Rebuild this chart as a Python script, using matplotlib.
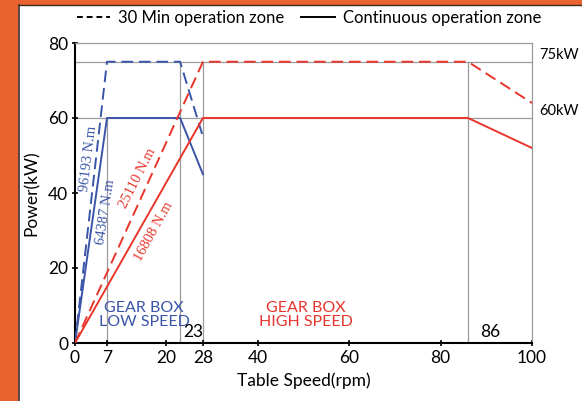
import matplotlib.pyplot as plt
from matplotlib.lines import Line2D
from matplotlib.patches import Rectangle

# data
low_30min_x = [0, 7, 23, 28]
low_30min_y = [0, 75, 75, 55]
low_cont_x = [0, 7, 23, 28]
low_cont_y = [0, 60, 60, 45]
high_30min_x = [0, 28, 86, 100]
high_30min_y = [0, 75, 75, 64]
high_cont_x = [0, 28, 86, 100]
high_cont_y = [0, 60, 60, 52]

xticks = [0, 7, 20, 28, 40, 60, 80, 100]
yticks = [0, 20, 40, 60, 80]
power_levels = [75, 60]
power_labels = ['75kW', '60kW']
speed_marks = [7, 23, 28, 86]
speed_tops = [60, 75, 75, 75]
torque_labels = ['96193 N.m', '64387 N.m', '25110 N.m', '16808 N.m']

blue = '#3a55a8'
red = '#e8352b'
grey = '#9a9a9a'
orange = '#e8632f'

plt.rcParams['font.family'] = ['Lato', 'DejaVu Sans']

fig = plt.figure(figsize=(5.82, 4.01), dpi=100)

# orange frame on left and top
fig.patches.append(Rectangle((0, 0), 17 / 582, 1, transform=fig.transFigure, color=orange, zorder=0))
fig.patches.append(Rectangle((0, 1 - 4 / 401), 1, 4 / 401, transform=fig.transFigure, color=orange, zorder=0))
fig.lines.append(Line2D([18.5 / 582, 18.5 / 582], [0, 1 - 4.5 / 401], transform=fig.transFigure, color='#3a2a22', lw=1.2))
fig.lines.append(Line2D([18.5 / 582, 1], [1 - 4.5 / 401, 1 - 4.5 / 401], transform=fig.transFigure, color='#3a2a22', lw=1.0))

ax = fig.add_axes([75 / 582, 1 - 343 / 401, 457 / 582, 300 / 401])
ax.set_xlim(0, 100)
ax.set_ylim(0, 80)

# reference grid lines
for p in power_levels:
    ax.axhline(p, color=grey, lw=0.9, zorder=1)
for s, top in zip(speed_marks, speed_tops):
    ax.plot([s, s], [0, top], color=grey, lw=0.9, zorder=1)

dash = (0, (6, 3))
ax.plot(low_30min_x, low_30min_y, color=blue, lw=1.4, linestyle=dash, zorder=3)
ax.plot(low_cont_x, low_cont_y, color=blue, lw=1.4, zorder=3)
ax.plot(high_30min_x, high_30min_y, color=red, lw=1.4, linestyle=dash, zorder=3)
ax.plot(high_cont_x, high_cont_y, color=red, lw=1.4, zorder=3)

# torque labels along the ramps
serif = ['Liberation Serif', 'DejaVu Serif']
ax.text(2.9, 49, torque_labels[0], color=blue, rotation=83, ha='center', va='center', fontsize=10.5, family=serif)
ax.text(6.8, 35, torque_labels[1], color=blue, rotation=81, ha='center', va='center', fontsize=10.5, family=serif)
ax.text(13.8, 44, torque_labels[2], color=red, rotation=63, ha='center', va='center', fontsize=10.5, family=serif)
ax.text(17.3, 29.6, torque_labels[3], color=red, rotation=61, ha='center', va='center', fontsize=10.5, family=serif)

ax.text(15.1, 7.5, 'GEAR BOX\nLOW SPEED', color=blue, ha='center', va='center', fontsize=11.5, linespacing=0.95)
ax.text(50.6, 7.5, 'GEAR BOX\nHIGH SPEED', color=red, ha='center', va='center', fontsize=11.5, linespacing=0.95)
ax.text(25.8, 3.0, '23', ha='center', va='center', fontsize=12.5)
ax.text(90.8, 3.0, '86', ha='center', va='center', fontsize=12.5)

for p, lab in zip(power_levels, power_labels):
    ax.text(101.6, p + 1.8, lab, ha='left', va='center', fontsize=10.5, clip_on=False)

for side in ['top', 'right']:
    ax.spines[side].set_color(grey)
    ax.spines[side].set_linewidth(0.9)
for side in ['left', 'bottom']:
    ax.spines[side].set_color('black')
    ax.spines[side].set_linewidth(1.5)

ax.set_xticks(xticks)
ax.set_yticks(yticks)
ax.tick_params(direction='inout', length=4, width=1.2, labelsize=12.5, pad=3)
ax.set_xlabel('Table Speed(rpm)', fontsize=12.5, labelpad=5)
ax.set_ylabel('Power(kW)', fontsize=12.5, labelpad=6)

handles = [Line2D([], [], color='black', lw=1.4, linestyle=(0, (3, 2))),
           Line2D([], [], color='black', lw=1.4)]
fig.legend(handles, ['30 Min operation zone', 'Continuous operation zone'],
           loc='center', bbox_to_anchor=(309 / 582, 1 - 18 / 401), ncol=2, frameon=False,
           fontsize=12, handlelength=2.0, handletextpad=0.5, columnspacing=1.0)

fig.savefig('out.png', dpi=100)
